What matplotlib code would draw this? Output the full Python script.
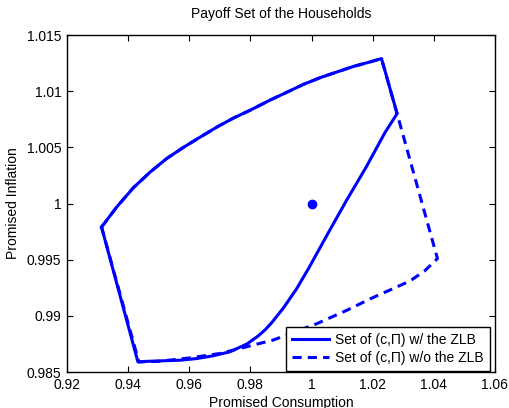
import matplotlib
matplotlib.use('Agg')
import matplotlib.pyplot as plt
from matplotlib.ticker import FuncFormatter

plt.rcParams['font.family'] = ['Liberation Sans', 'DejaVu Sans']
plt.rcParams['font.size'] = 10

# ── data ──────────────────────────────────────────────────────────────────────
# upper boundary, shared by both sets (left corner -> top right corner)
top_c = [0.9313, 0.9363, 0.9417, 0.9472, 0.9526, 0.9581, 0.9635, 0.9690, 0.9744,
         0.9799, 0.9864, 0.9919, 0.9973, 1.0028, 1.0082, 1.0137, 1.0191, 1.0229]
top_p = [0.9979, 0.9997, 1.0014, 1.0028, 1.0040, 1.0050, 1.0059, 1.0068, 1.0076,
         1.0083, 1.0092, 1.0099, 1.0106, 1.0112, 1.0117, 1.0122, 1.0126, 1.0129]

# lower boundary with the ZLB (right corner -> bottom left corner)
zlb_c = [1.0280, 1.0240, 1.0180, 1.0115, 1.0055, 0.9992, 0.9951, 0.9908, 0.9870,
         0.9848, 0.9825, 0.9789, 0.9733, 0.9679, 0.9625, 0.9570, 0.9515, 0.9461,
         0.9432]
zlb_p = [1.0080, 1.0063, 1.0033, 1.0003, 0.9974, 0.9943, 0.9924, 0.9907, 0.9894,
         0.98875, 0.9882, 0.9875, 0.9868, 0.98645, 0.9862, 0.98605, 0.9860,
         0.98595, 0.9859]

# lower boundary without the ZLB (right corner -> bottom left corner)
nozlb_c = [1.0280, 1.0412, 1.0370, 1.0322, 1.0191, 1.0116, 1.0017, 0.9875, 0.9766,
           0.9700, 0.9600, 0.9500, 0.9435]
nozlb_p = [1.0080, 0.9951, 0.9940, 0.9931, 0.9915, 0.9905, 0.9893, 0.98785, 0.9871,
           0.98665, 0.98625, 0.98595, 0.9859]

steady_c = [1.0]
steady_p = [1.0]

xticks = [0.92, 0.94, 0.96, 0.98, 1.00, 1.02, 1.04, 1.06]
yticks = [0.985, 0.99, 0.995, 1.0, 1.005, 1.01, 1.015]

# closed loops
solid_c = top_c + zlb_c + [top_c[0]]
solid_p = top_p + zlb_p + [top_p[0]]
dash_c = top_c + nozlb_c + [top_c[0]]
dash_p = top_p + nozlb_p + [top_p[0]]

fig = plt.figure(figsize=(5.10, 4.08), dpi=100)
ax = fig.add_axes([0.1314, 0.0882, 0.839, 0.826])

BLUE = '#0000ff'
ax.plot(solid_c, solid_p, color=BLUE, lw=2.2, solid_joinstyle='round',
        label='Set of (c,\u03a0) w/ the ZLB')
ax.plot(dash_c, dash_p, color=BLUE, lw=2.2, linestyle=(0, (3, 2)),
        label='Set of (c,\u03a0) w/o the ZLB')
ax.plot(steady_c, steady_p, 'o', color=BLUE, ms=6, mec=BLUE)

ax.set_xlim(0.92, 1.06)
ax.set_ylim(0.985, 1.015)
ax.set_xticks(xticks)
ax.set_yticks(yticks)
fmt = FuncFormatter(lambda v, pos: '%g' % round(v, 4))
ax.xaxis.set_major_formatter(fmt)
ax.yaxis.set_major_formatter(fmt)
ax.tick_params(direction='in', top=True, right=True, length=4, width=0.8,
               labelsize=10, pad=4)
for s in ax.spines.values():
    s.set_linewidth(1.0)

ax.set_title('Payoff Set of the Households', fontsize=10, pad=12)
ax.set_xlabel('Promised Consumption', fontsize=10, labelpad=3)
ax.set_ylabel('Promised Inflation', fontsize=10, labelpad=5)

leg = ax.legend(loc='lower right', bbox_to_anchor=(0.988, 0.002), borderaxespad=0,
                fancybox=False, edgecolor='black', framealpha=1,
                handlelength=2.7, labelspacing=0.3, borderpad=0.45,
                handletextpad=0.4, fontsize=10)
leg.get_frame().set_linewidth(1.0)

fig.savefig('out.png', dpi=100)
